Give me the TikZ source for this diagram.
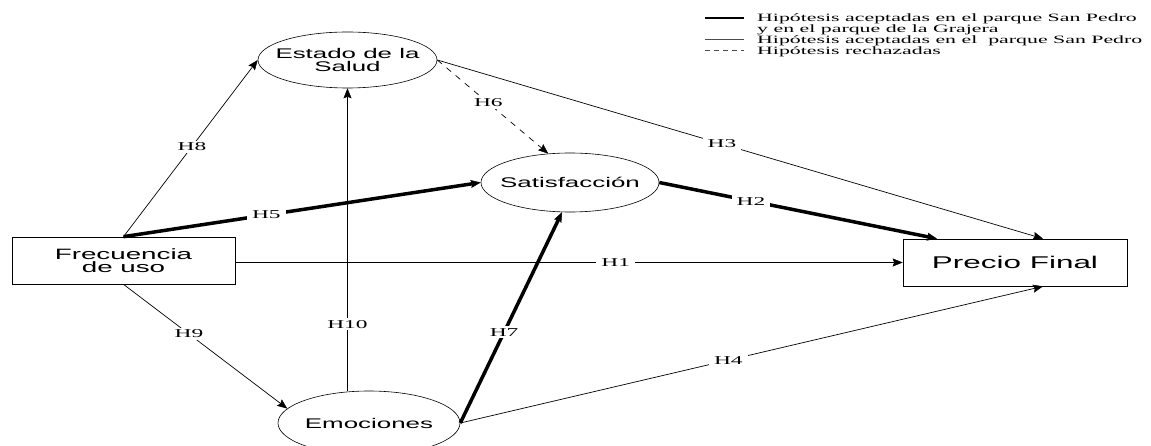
\documentclass[tikz,border=0pt]{standalone}
\usepackage{fontspec}
\setmainfont[FakeStretch=1.95]{Liberation Serif}
\setsansfont[FakeStretch=1.85]{Liberation Sans}
\usetikzlibrary{arrows.meta,shapes.geometric}

\begin{document}
\begin{tikzpicture}[x=1pt,y=-1pt,
	var/.style={draw, ellipse, line width=0.6pt, inner xsep=-12pt, inner ysep=0pt, align=center, font=\sffamily\fontsize{14}{13}\selectfont},
	caja/.style={draw, rectangle, line width=0.7pt, inner sep=0pt, align=center},
	hip/.style={-{Stealth[length=10pt,width=8pt,inset=1.5pt,line width=0.5pt]}, line width=0.7pt},
	hipgruesa/.style={hip, line width=3.5pt},
	hiprech/.style={hip, dash pattern=on 6pt off 6pt},
	etiq/.style={fill=white, inner xsep=5pt, inner ysep=2pt, font=\fontsize{12}{12}\selectfont},
	leyenda/.style={anchor=base west, inner sep=0pt, font=\fontsize{11.2}{11}\selectfont}]
			%%%%% START %%%%%
			
			\useasboundingbox (0,0) rectangle (1151,446);
			
			\node[var, minimum width=179pt, minimum height=56pt] (salud) at (347.5, 60) {Estado de la\\Salud};
			\node[var, minimum width=178pt, minimum height=59pt] (satis) at (570, 182.5) {Satisfacción};
			\node[var, minimum width=182pt, minimum height=64pt] (emoc) at (369, 423) {Emociones};
			
			\node[caja, minimum width=223pt, minimum height=47pt, font=\sffamily\fontsize{15}{13.5}\selectfont] (frec) at (123.5, 260.5) {Frecuencia\\de uso};
			\node[caja, minimum width=224pt, minimum height=47pt, font=\sffamily\fontsize{17}{19}\selectfont] (precio) at (1015, 262.5) {Precio Final};
			
			\coordinate (p2) at ([xshift=-78pt]precio.north);
			\coordinate (p3) at ([xshift=28pt]precio.north);
			\coordinate (p4) at ([xshift=28pt]precio.south);
			
			\draw[hip] (frec.east |- precio.west) -- node[etiq, pos=0.57] {H1} (precio.west);
			\draw[hip] (frec.north) -- node[etiq, pos=0.51] {H8} (salud.west);
			\draw[hip] (frec.south) -- node[etiq, pos=0.40] {H9} (emoc.170);
			\draw[hip] (salud.south |- emoc.north) -- node[etiq, pos=0.22] {H10} (salud.south);
			\draw[hip] (salud.east) -- node[etiq, pos=0.47] {H3} (p3);
			\draw[hip] (emoc.east) -- node[etiq, pos=0.46] {H4} (p4);
			\draw[hiprech] (salud.east) -- node[etiq, pos=0.46] {H6} (satis.127);
			
			\draw[hipgruesa] (frec.north) -- node[etiq, pos=0.40] {H5} (satis.west);
			\draw[hipgruesa] (emoc.east) -- node[etiq, pos=0.43] {H7} (satis.255);
			\draw[hipgruesa] (satis.east) -- node[etiq, pos=0.33] {H2} (p2);
			
			% leyenda
			\coordinate (la1) at (705, 18);  \coordinate (lb1) at (744, 18);
			\coordinate (la2) at (705, 39);  \coordinate (lb2) at (744, 39);
			\coordinate (la3) at (705, 50);  \coordinate (lb3) at (744, 50);
			\draw[line width=2.8pt] (la1) -- (lb1);
			\draw[line width=0.6pt, color=black!70] (la2) -- (lb2);
			\draw[line width=0.7pt, color=black!70, dash pattern=on 5pt off 4pt] (la3) -- (lb3);
			
			\node[leyenda] (ley1) at (757, 21.5) {Hipótesis aceptadas en el parque San Pedro};
			\node[leyenda] (ley2) at (757, 32.5) {y en el parque de la Grajera};
			\node[leyenda] (ley3) at (757, 43.5) {Hipótesis aceptadas en el\ \ parque San Pedro};
			\node[leyenda] (ley4) at (757, 54.5) {Hipótesis rechazadas};
			
			%%%%% END %%%%%
\end{tikzpicture}
\end{document}
